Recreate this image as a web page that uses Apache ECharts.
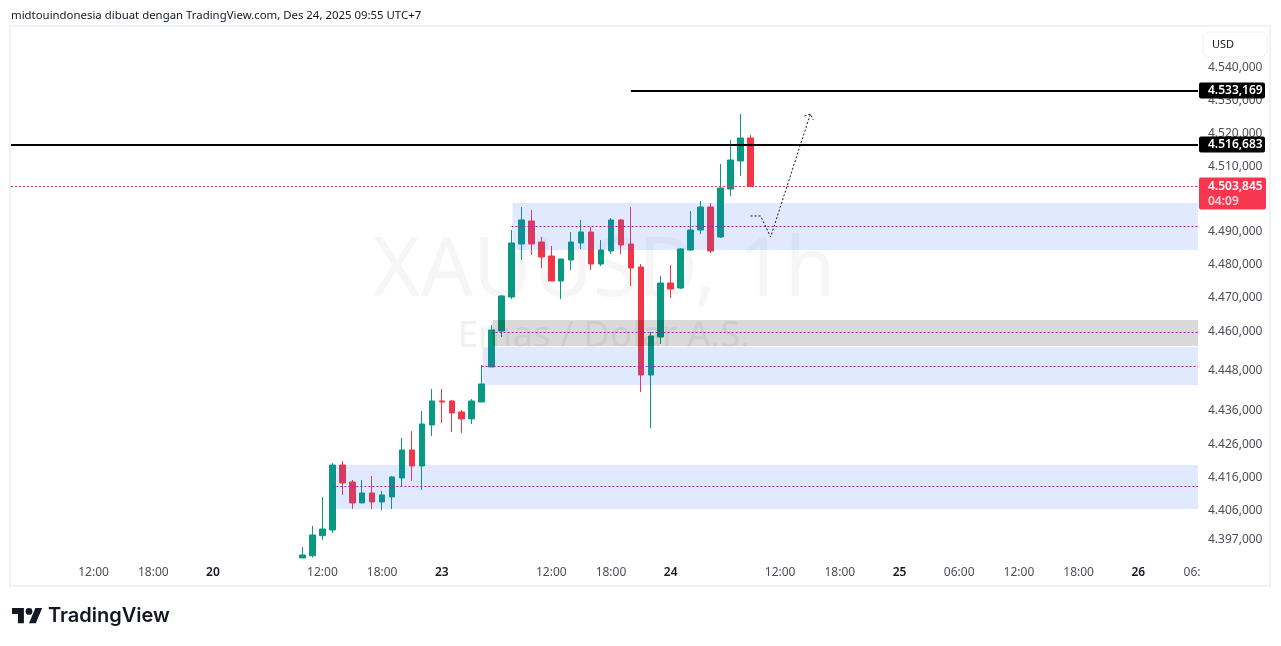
<!DOCTYPE html>
<html>
<head>
<meta charset="utf-8">
<title>XAUUSD, 1h</title>
<style>
  html, body { margin: 0; padding: 0; background: #fff; }
  #chart { width: 1281px; height: 646px; }
</style>
<script src="https://cdn.jsdelivr.net/npm/echarts@6/dist/echarts.min.js"></script>
</head>
<body>
<div id="chart"></div>
<script>
// hourly bars, index 0 = first bar on the chart
var opens = [4390.61, 4391.3, 4397.4, 4399.15, 4418.96, 4413.78, 4407.38, 4410.43, 4407.68, 4409.21,
  4415.0, 4423.54, 4418.66, 4431.16, 4438.48, 4438.48, 4435.12, 4433.01, 4438.17, 4448.84,
  4459.82, 4470.18, 4486.34, 4493.35, 4486.95, 4482.68, 4475.06, 4481.46, 4486.65, 4490.0,
  4480.24, 4484.21, 4493.66, 4486.34, 4479.33, 4446.4, 4457.99, 4474.45, 4472.93, 4484.51,
  4490.61, 4497.62, 4488.48, 4503.11, 4511.65, 4518.66];
var closes = [4391.52, 4397.62, 4399.45, 4418.96, 4413.47, 4407.38, 4410.43, 4407.68, 4409.82, 4415.31,
  4423.54, 4418.66, 4431.46, 4438.48, 4438.17, 4434.82, 4433.01, 4438.48, 4443.66, 4460.12,
  4470.49, 4486.65, 4493.66, 4486.34, 4482.38, 4475.06, 4481.77, 4486.95, 4490.0, 4480.24,
  4484.51, 4493.66, 4486.04, 4479.02, 4446.4, 4458.29, 4474.45, 4472.62, 4484.82, 4490.61,
  4497.62, 4484.21, 4503.41, 4511.95, 4518.66, 4503.845];
var lows = [4390.61, 4390.7, 4396.1, 4398.23, 4409.82, 4405.55, 4407.38, 4405.55, 4405.24, 4405.55,
  4412.25, 4414.08, 4411.34, 4427.8, 4431.77, 4429.02, 4428.72, 4431.46, 4438.17, 4448.84,
  4457.99, 4469.57, 4481.46, 4482.99, 4479.02, 4475.06, 4469.57, 4478.41, 4484.82, 4478.41,
  4479.63, 4483.29, 4483.29, 4473.54, 4441.22, 4430.24, 4455.85, 4469.88, 4472.62, 4484.21,
  4489.39, 4483.6, 4488.17, 4500.98, 4507.07, 4503.845];
var highs = [4393.96, 4400.37, 4409.21, 4419.57, 4420.18, 4414.39, 4414.39, 4415.61, 4411.04, 4415.61,
  4427.19, 4429.33, 4435.43, 4442.13, 4442.13, 4438.78, 4435.73, 4439.09, 4449.45, 4461.64,
  4470.79, 4490.61, 4497.62, 4496.71, 4488.48, 4485.73, 4481.77, 4490.0, 4493.66, 4491.52,
  4487.56, 4494.27, 4493.96, 4497.62, 4480.24, 4459.51, 4476.59, 4479.94, 4485.12, 4496.4,
  4499.45, 4498.84, 4510.73, 4518.05, 4525.98, 4519.57];

// source scale is logarithmic, axis here is linear, so low ticks sit slightly off their round value
var yTicks = [4540, 4530, 4520, 4510, 4490, 4480, 4470, 4459.7, 4447.6, 4435.6, 4425.3, 4415.15, 4405.2, 4396.15];
var yLabels = ['4.540,000', '4.530,000', '4.520,000', '4.510,000', '4.490,000', '4.480,000', '4.470,000',
  '4.460,000', '4.448,000', '4.436,000', '4.426,000', '4.416,000', '4.406,000', '4.397,000'];

var xTicks = [-21, -15, -9, 2, 8, 14, 25, 31, 37, 48, 54, 60, 66, 72, 78, 84, 89.4];
var xLabels = ['12:00', '18:00', '20', '12:00', '18:00', '23', '12:00', '18:00', '24', '12:00', '18:00', '25',
  '06:00', '12:00', '18:00', '26', '06:'];

// zones: start bar, top price, bottom price, mid price
var zoneStarts = [21.1, 19.1, 18.1, 3.1];
var zoneTops = [4498.84, 4463.17, 4454.94, 4418.96];
var zoneBottoms = [4484.51, 4455.24, 4443.35, 4405.55];
var zoneMids = [4491.83, 4459.51, 4449.14, 4412.55];
var zoneColors = ['rgba(41,98,255,0.14)', 'rgba(0,0,0,0.15)', 'rgba(41,98,255,0.14)', 'rgba(41,98,255,0.14)'];

var levelUpper = 4533.169;
var levelLower = 4516.683;
var lastPrice = 4503.845;
var countdown = '04:09';

var arrowX = [45.03, 46.04, 47.04, 51.05];
var arrowY = [4494.88, 4494.88, 4488.48, 4525.98];
var arrowHeadX = [50.45, 51.05, 51.33];
var arrowHeadY = [4525.37, 4525.98, 4524.15];

var xMin = -29.3, xMax = 90;
var yMin = 4390.6, yMax = 4552.5;
var font = '"Noto Sans", sans-serif';

var chart = echarts.init(document.getElementById('chart'));

var candles = opens.map(function (o, i) {
  return [i, o, closes[i], lows[i], highs[i]];
});
var zoneAreas = zoneStarts.map(function (s, i) {
  return [{ coord: [s, zoneTops[i]], itemStyle: { color: zoneColors[i] } }, { coord: [xMax, zoneBottoms[i]] }];
});
var zoneLines = zoneStarts.map(function (s, i) {
  return [{ coord: [s - 0.1, zoneMids[i]] }, { coord: [xMax, zoneMids[i]] }];
});

function priceTag(value, start) {
  return [{
    coord: [start, value],
    lineStyle: { color: '#000', width: 2, type: 'solid' },
    label: {
      show: true, position: 'end', distance: 1, offset: [0, 0],
      formatter: value.toFixed(3).replace('.', ',').replace(/^4/, '4.'),
      backgroundColor: '#000', color: '#fff', fontFamily: font, fontSize: 12, fontWeight: 600,
      padding: [2, 4, 2, 9], borderRadius: 2, width: 53
    }
  }, { coord: [xMax, value] }];
}

chart.setOption({
  animation: false,
  textStyle: { fontFamily: font },
  grid: { left: 11, right: 83, top: 27, bottom: 88 },
  xAxis: {
    type: 'value', min: xMin, max: xMax,
    splitLine: { show: false }, axisLine: { show: false }, axisTick: { show: false },
    axisLabel: {
      customValues: xTicks, margin: 9, fontSize: 12, fontFamily: font, color: '#131722',
      showMinLabel: true, showMaxLabel: true, hideOverlap: false,
      formatter: function (v) {
        var s = xLabels[xTicks.indexOf(v)];
        return s && s.length === 2 ? '{d|' + s + '}' : '{h|' + s + '}';
      },
      rich: {
        h: { color: '#4a4d57', fontSize: 12, fontFamily: font },
        d: { color: '#131722', fontSize: 12, fontFamily: font, fontWeight: 600 }
      }
    }
  },
  yAxis: {
    type: 'value', position: 'right', min: yMin, max: yMax,
    splitLine: { show: false }, axisLine: { show: false }, axisTick: { show: false },
    axisLabel: {
      customValues: yTicks, margin: 10, fontSize: 12, fontFamily: font, color: '#4a4d57',
      formatter: function (v) { return yLabels[yTicks.indexOf(v)]; }
    }
  },
  graphic: [
    { type: 'text', z: -1, style: { x: 604, y: 273, text: 'XAUUSD, 1h', align: 'center', verticalAlign: 'middle', fontFamily: font, fontSize: 82, fill: '#f6f6f7' } },
    { type: 'text', z: -1, style: { x: 604, y: 337, text: 'Emas / Dolar A.S.', align: 'center', verticalAlign: 'middle', fontFamily: font, fontSize: 36.7, fill: '#f1f1f2' } },
    { type: 'text', style: { x: 11, y: 16, text: 'midtouindonesia dibuat dengan TradingView.com, Des 24, 2025 09:55 UTC+7', verticalAlign: 'middle', fontFamily: font, fontSize: 11.4, fill: '#131722' } },
    { type: 'rect', shape: { x: 10, y: 26, width: 1260, height: 560 }, style: { fill: 'none', stroke: '#f0f3fa', lineWidth: 2 } },
    { type: 'rect', shape: { x: 1203, y: 32, width: 64, height: 25, r: 6 }, style: { fill: '#fff', stroke: '#eef0f3', lineWidth: 1 } },
    { type: 'text', style: { x: 1212, y: 45, text: 'USD', verticalAlign: 'middle', fontFamily: font, fontSize: 11, fill: '#131722' } },
    { type: 'polygon', shape: { points: [[0, 4], [14, 4], [14, 22], [7, 22], [7, 11], [0, 11]] }, x: 12, y: 604.6, scaleX: 0.85, scaleY: 0.85, style: { fill: '#131722' } },
    { type: 'polygon', shape: { points: [[27.5, 4], [35.5, 4], [28, 22], [20, 22]] }, x: 12, y: 604.6, scaleX: 0.85, scaleY: 0.85, style: { fill: '#131722' } },
    { type: 'circle', shape: { cx: 20, cy: 8, r: 4 }, x: 12, y: 604.6, scaleX: 0.85, scaleY: 0.85, style: { fill: '#131722' } },
    { type: 'text', style: { x: 48, y: 616, text: 'TradingView', verticalAlign: 'middle', fontFamily: 'Inter, sans-serif', fontSize: 20, fontWeight: 600, fill: '#131722' } }
  ],
  series: [
    {
      type: 'candlestick', data: candles, barWidth: 6, z: 2,
      itemStyle: { color: '#089981', color0: '#f23645', borderColor: '#089981', borderColor0: '#f23645', borderWidth: 1 }
    },
    {
      type: 'line', data: [], z: 3, silent: true,
      markArea: { silent: true, z: 3, data: zoneAreas },
      markLine: {
        silent: true, z: 4, symbol: 'none', animation: false,
        lineStyle: { color: '#9c27b0', type: [2, 2], width: 1 },
        label: { show: false },
        data: zoneLines
      }
    },
    {
      type: 'line', data: [], z: 5, silent: true,
      markLine: {
        silent: true, z: 6, symbol: 'none', animation: false,
        data: [
          priceTag(levelLower, xMin),
          priceTag(levelUpper, 33),
          [{
            coord: [xMin, lastPrice],
            lineStyle: { color: '#f23645', width: 1, type: [2, 2] },
            label: {
              show: true, position: 'end', distance: 1, offset: [0, 7],
              formatter: '{a|4.503,845}\n{b|' + countdown + '}',
              backgroundColor: '#f7374f', padding: [1, 4, 1, 9], borderRadius: 2, width: 54,
              rich: {
                a: { color: '#fff', fontFamily: font, fontSize: 12, fontWeight: 600, lineHeight: 15 },
                b: { color: '#ffd5da', fontFamily: font, fontSize: 12, fontWeight: 600, lineHeight: 15 }
              }
            }
          }, { coord: [xMax, lastPrice] }]
        ]
      }
    },
    {
      type: 'line', z: 7, silent: true, symbol: 'none',
      data: arrowX.map(function (x, i) { return [x, arrowY[i]]; }),
      lineStyle: { color: '#131722', width: 1, type: [2, 2] }
    },
    {
      type: 'line', z: 7, silent: true, symbol: 'none',
      data: arrowHeadX.map(function (x, i) { return [x, arrowHeadY[i]]; }),
      lineStyle: { color: '#131722', width: 1, type: [2, 2] }
    }
  ]
});
</script>
</body>
</html>
